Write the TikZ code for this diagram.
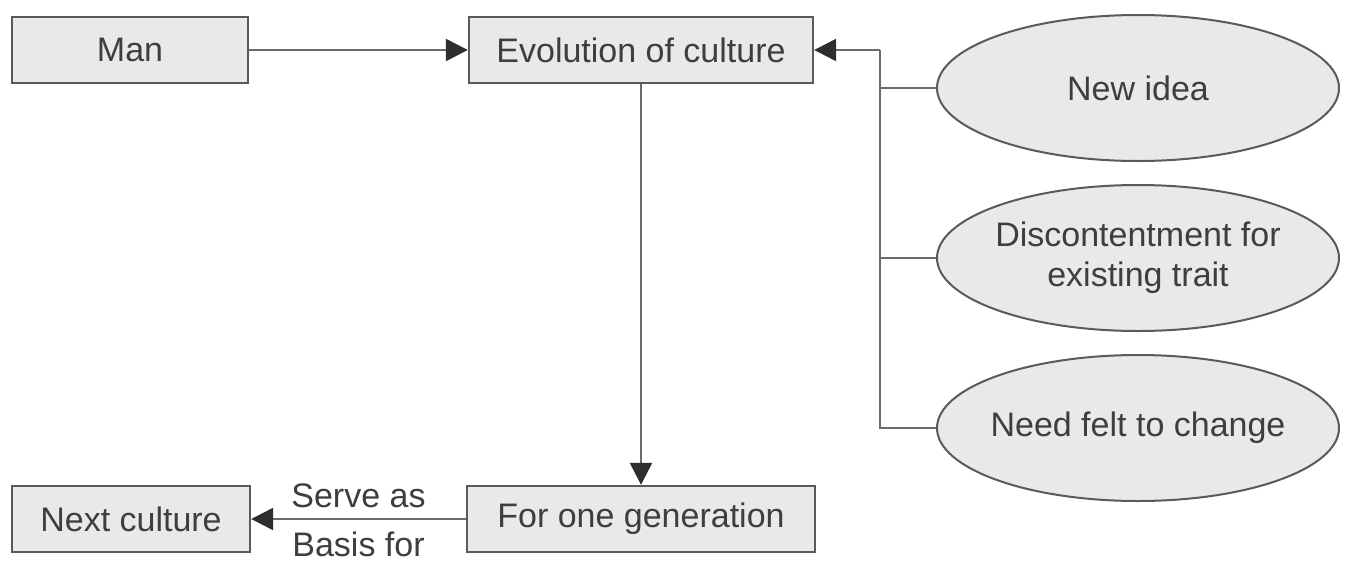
\documentclass[tikz,border=0pt]{standalone}
\usepackage{fontspec}
\setmainfont{Liberation Sans}
\usepackage{tikz}
\usetikzlibrary{shapes.geometric, arrows.meta, positioning, calc}
\definecolor{BoxFill}{HTML}{E8E9EB}
\definecolor{BoxEdge}{HTML}{5A5A5A}
\definecolor{InkGrey}{HTML}{3E3E3E}
\definecolor{WireGrey}{HTML}{6A6A6A}
\definecolor{TipGrey}{HTML}{2E2E2E}

\begin{document}
\begin{tikzpicture}[x=0.5pt, y=-0.5pt, >={Triangle[length=11pt,width=11pt,color=TipGrey]}, font=\fontsize{17}{20}\selectfont]
    \tikzstyle{block} = [rectangle, draw=BoxEdge, fill=BoxFill, line width=1.2pt, text=InkGrey, align=center, minimum height=33pt, inner sep=0pt]
    \tikzstyle{cause} = [ellipse, draw=BoxEdge, fill=BoxFill, line width=1pt, text=InkGrey, align=center, minimum width=201pt, minimum height=73pt, inner xsep=-6pt, inner ysep=0pt]
    \tikzstyle{line} = [draw, ->, line width=1.2pt, WireGrey]
    \tikzstyle{wire} = [draw, line width=1.2pt, WireGrey]
    \tikzstyle{note} = [text=InkGrey, inner sep=1pt]

    \useasboundingbox (0,0) rectangle (1351,563);

    \node [block, minimum width=118pt] (man) at (130,50) {Man};
    \node [block, minimum width=172pt] (evol) at (641,50) {Evolution of culture};
    \node [block, minimum width=174pt] (gen) at (641,519) {For one generation};
    \node [block, minimum width=119pt] (next) at (131,519) {Next culture};

    \node [cause] (idea) at (1138,88) {New idea};
    \node [cause] (disc) at (1138,258) {Discontentment for\\existing trait};
    \node [cause] (need) at (1138,428) {Need felt to change};

    \coordinate (bus) at (880,50);

    \path [line] (man) -- (evol);
    \path [line] (evol) -- (gen);
    \path [line] (gen) -- (next)
        node [note, midway, above=4pt] {Serve as}
        node [note, midway, below=5pt] {Basis for};
    \path [line] (bus) -- (evol);
    \path [wire] (bus) |- (need);
    \path [wire] (idea.west) -- (idea.west -| bus);
    \path [wire] (disc.west) -- (disc.west -| bus);
\end{tikzpicture}
\end{document}
